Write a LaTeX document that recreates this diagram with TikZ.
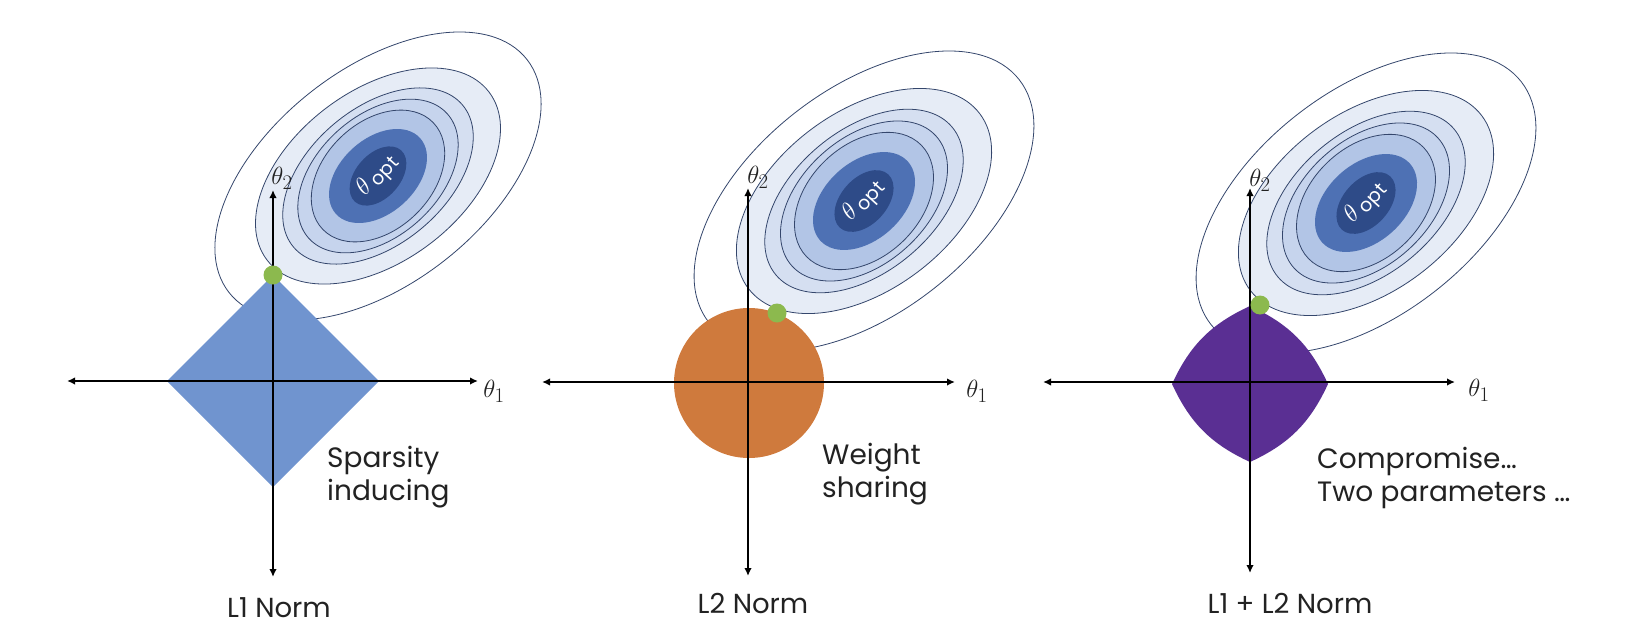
\documentclass[tikz,border=0pt]{standalone}
\usepackage{fontspec}
\setmainfont{Poppins}
\usetikzlibrary{arrows.meta}
\definecolor{ringA}{HTML}{E6ECF6}
\definecolor{ringB}{HTML}{D5DFF1}
\definecolor{ringC}{HTML}{C6D4ED}
\definecolor{ringD}{HTML}{B2C5E6}
\definecolor{midC}{HTML}{4E71B4}
\definecolor{darkC}{HTML}{2E4B88}
\definecolor{lineC}{HTML}{34466C}
\definecolor{diaC}{HTML}{7094CF}
\definecolor{oraC}{HTML}{CF7A3D}
\definecolor{purC}{HTML}{5A2F93}
\definecolor{dotC}{HTML}{8CB94E}
\definecolor{txtC}{HTML}{222222}
\newcommand\contourset[2]{%
  \begin{scope}[shift={#1}, scale=#2]
    \draw[contour, fill=white, rotate=38] (0,0) ellipse [x radius=197, y radius=112];
    \draw[contour, fill=ringA, rotate=37] (0,0) ellipse [x radius=145, y radius=89];
    \draw[contour, fill=ringB, rotate=40] (0,0) ellipse [x radius=115, y radius=71];
    \draw[contour, fill=ringC, rotate=42] (0,0) ellipse [x radius=97, y radius=63];
    \draw[contour, fill=ringD, rotate=44] (0,0) ellipse [x radius=80, y radius=56];
    \fill[midC, rotate=42] (0,0) ellipse [x radius=59, y radius=39];
    \fill[darkC, rotate=48] (0,0) ellipse [x radius=36, y radius=23];
    \node[rotate=48, text=white, inner sep=0pt, font=\fontsize{24}{24}\selectfont]
      at (0,0) {$\theta$\,\raisebox{-0.3ex}{\fontsize{19}{19}\selectfont opt}};
  \end{scope}}
\begin{document}
\begin{tikzpicture}[x=1pt,y=1pt,
  axisline/.style={line width=2.2pt, draw=black,
    {Latex[length=8pt,width=7.5pt]}-{Latex[length=8pt,width=7.5pt]}},
  contour/.style={draw=lineC, line width=0.8pt},
  desc/.style={font=\fontsize{28}{33}\selectfont, text=txtC, align=left, inner sep=0pt, anchor=west},
  normlbl/.style={font=\fontsize{27.5}{30}\selectfont, text=txtC, inner sep=0pt},
  thetalbl/.style={font=\fontsize{28}{28}\selectfont, text=txtC, inner sep=0pt},
  dot/.style={circle, fill=dotC, minimum size=19pt, inner sep=0pt}]
\useasboundingbox (0,0) rectangle (1628,-632);

% ---------- Panel 1: L1 ----------
\contourset{(378,-176)}{0.96}
\fill[diaC] (273,-275) -- (379,-381) -- (273,-487) -- (167,-381) -- cycle;
\coordinate (a1l) at (67,-381);
\coordinate (a1r) at (478,-381);
\coordinate (a1t) at (273,-190);
\coordinate (a1b) at (273,-577);
\draw[axisline] (a1l) -- (a1r);
\draw[axisline] (a1b) -- (a1t);
\node[dot] (d1) at (273,-275) {};
\node[thetalbl] (t12) at (282,-178) {$\theta_2$};
\node[thetalbl] (t11) at (494,-391) {$\theta_1$};
\node[desc] (s1) at (327,-477) {Sparsity\\inducing};
\node[normlbl] (n1) at (279,-608) {L1 Norm};

% ---------- Panel 2: L2 ----------
\contourset{(864,-201)}{1}
\fill[oraC] (749,-383) circle [radius=75];
\coordinate (a2l) at (542,-382);
\coordinate (a2r) at (955,-382);
\coordinate (a2t) at (748,-188);
\coordinate (a2b) at (748,-576);
\draw[axisline] (a2l) -- (a2r);
\draw[axisline] (a2b) -- (a2t);
\node[dot] (d2) at (777,-313) {};
\node[thetalbl] (t22) at (758,-177) {$\theta_2$};
\node[thetalbl] (t21) at (977,-391) {$\theta_1$};
\node[desc] (s2) at (822,-474) {Weight\\sharing};
\node[normlbl] (n2) at (753,-603) {L2 Norm};

% ---------- Panel 3: L1 + L2 ----------
\contourset{(1366,-203)}{1}
\begin{scope}[shift={(1250,-384)}]
  \fill[purC] (78,0) .. controls (60,39) and (39,60) .. (0,78)
    .. controls (-39,60) and (-60,39) .. (-78,0)
    .. controls (-60,-39) and (-39,-60) .. (0,-78)
    .. controls (39,-60) and (60,-39) .. cycle;
\end{scope}
\coordinate (a3l) at (1043,-382);
\coordinate (a3r) at (1455,-382);
\coordinate (a3t) at (1250,-188);
\coordinate (a3b) at (1250,-573);
\draw[axisline] (a3l) -- (a3r);
\draw[axisline] (a3b) -- (a3t);
\node[dot] (d3) at (1260,-305) {};
\node[thetalbl] (t32) at (1260,-180) {$\theta_2$};
\node[thetalbl] (t31) at (1479,-390) {$\theta_1$};
\node[desc] (s3) at (1317,-478) {Compromise…\\Two parameters …};
\node[normlbl] (n3) at (1290,-603) {L1 + L2 Norm};
\end{tikzpicture}
\end{document}
